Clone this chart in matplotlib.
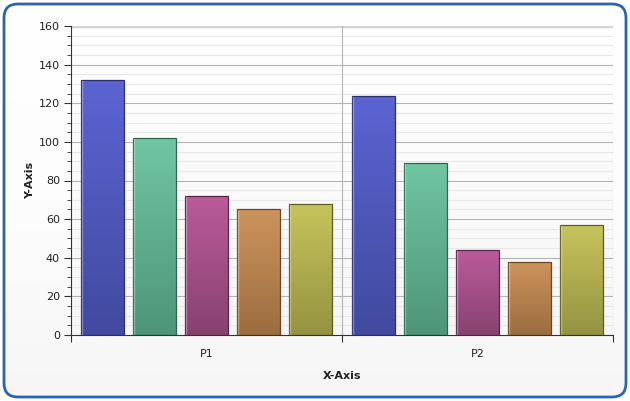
import numpy as np
import matplotlib
matplotlib.use("Agg")
import matplotlib.pyplot as plt
from matplotlib.patches import FancyBboxPatch
from matplotlib.colors import LinearSegmentedColormap

# data
categories = ["P1", "P2"]
series_1 = [132, 124]
series_2 = [102, 89]
series_3 = [72, 44]
series_4 = [65, 38]
series_5 = [68, 57]
all_series = [series_1, series_2, series_3, series_4, series_5]

# (top colour, bottom colour, edge colour)
bar_colors = [
    ("#5b64d2", "#414a9e", "#2a2f6e"),
    ("#70c6a2", "#4e9479", "#2f6650"),
    ("#bb5b9b", "#874270", "#5a2449"),
    ("#cc945c", "#9c6d40", "#6a4624"),
    ("#c6c45c", "#959340", "#5e5c22"),
]

fig = plt.figure(figsize=(6.3, 4.01), dpi=100)
fig.patch.set_facecolor("white")

# figure background gradient + rounded blue frame
bg = fig.add_axes([0, 0, 1, 1], zorder=-10)
grad = np.linspace(0, 1, 256).reshape(-1, 1)
bg_cmap = LinearSegmentedColormap.from_list("bg", ["#f6f6f6", "#fdfdfd", "#ffffff"])
bg.set_xlim(0, 1)
bg.set_ylim(0, 1)
bg.axis("off")
frame = FancyBboxPatch((4 / 630, 4 / 401), 622 / 630, 393 / 401,
                       boxstyle="round,pad=0,rounding_size=0.022",
                       transform=bg.transAxes, fill=False,
                       edgecolor="#2864b0", linewidth=2.0,
                       mutation_aspect=630 / 401, zorder=3)
bg.add_patch(frame)
bg_im = bg.imshow(grad, aspect="auto", cmap=bg_cmap, extent=[0, 1, 0, 1],
                  origin="lower", zorder=1)
bg_im.set_clip_path(frame)

ax = fig.add_axes([71 / 630, 1 - 335 / 401, 542 / 630, 309 / 401])
ax.set_facecolor("none")

# plot area gradient
pa_cmap = LinearSegmentedColormap.from_list("pa", ["#f6f6f6", "#ffffff"])
ax.imshow(grad, aspect="auto", cmap=pa_cmap, extent=[0, 2, 0, 160],
          origin="lower", zorder=0)

ax.set_xlim(0, 2)
ax.set_ylim(0, 160)

# grid
for v in np.arange(0, 161, 5):
    if v % 20 == 0:
        continue
    ax.axhline(v, color="#e8e8e8", lw=0.8, zorder=1)
for v in np.arange(20, 160, 20):
    ax.axhline(v, color="#b4b4b4", lw=0.8, zorder=1)
ax.axhline(160, color="#d4d4d4", lw=2.5, zorder=1)
ax.axvline(1, color="#b4b4b4", lw=0.8, zorder=1)
ax.axvline(2, color="#c8c8c8", lw=0.8, zorder=1)

bar_w = 43 / 271
step = 52 / 271
pad = 10 / 271

for ci in range(len(categories)):
    for si, vals in enumerate(all_series):
        top, bot, edge = bar_colors[si]
        x0 = ci + pad + si * step
        v = vals[ci]
        cm = LinearSegmentedColormap.from_list("b%d" % si, [bot, top])
        rect = ax.bar(x0, v, width=bar_w, align="edge", color="none",
                      edgecolor=edge, linewidth=0.9, zorder=4)[0]
        im = ax.imshow(grad, aspect="auto", cmap=cm,
                       extent=[x0, x0 + bar_w, 0, v], origin="lower", zorder=3)
        im.set_clip_path(rect)
        # light highlight on the left edge
        ax.plot([x0 + 0.004, x0 + 0.004], [0.5, v - 0.6], color="white",
                alpha=0.35, lw=1.0, zorder=4)

ax.set_xlim(0, 2)
ax.set_ylim(0, 160)

for s in ["top", "right"]:
    ax.spines[s].set_visible(False)
ax.spines["left"].set_color("#333333")
ax.spines["bottom"].set_color("#333333")
ax.spines["left"].set_zorder(5)
ax.spines["bottom"].set_zorder(5)

ax.set_yticks(np.arange(0, 161, 20))
ax.set_yticks(np.arange(0, 161, 5), minor=True)
ax.set_xticks([0, 1, 2])
ax.set_xticklabels([])
ax.set_xticks([0.5, 1.5], minor=True)
ax.set_xticklabels(categories, minor=True)
ax.tick_params(axis="y", which="major", length=5, color="#333333",
               labelsize=8, labelcolor="#222222", pad=3)
ax.tick_params(axis="y", which="minor", length=3, color="#333333")
ax.tick_params(axis="x", which="major", length=5, color="#333333")
ax.tick_params(axis="x", which="minor", length=0, labelsize=8,
               labelcolor="#222222", pad=10)

ax.set_xlabel("X-Axis", fontsize=8, fontweight="bold", color="#222222", labelpad=9)
ax.set_ylabel("Y-Axis", fontsize=8, fontweight="bold", color="#222222")
ax.yaxis.set_label_coords(-36 / 542, 0.5)

fig.savefig("out.png", dpi=100)
